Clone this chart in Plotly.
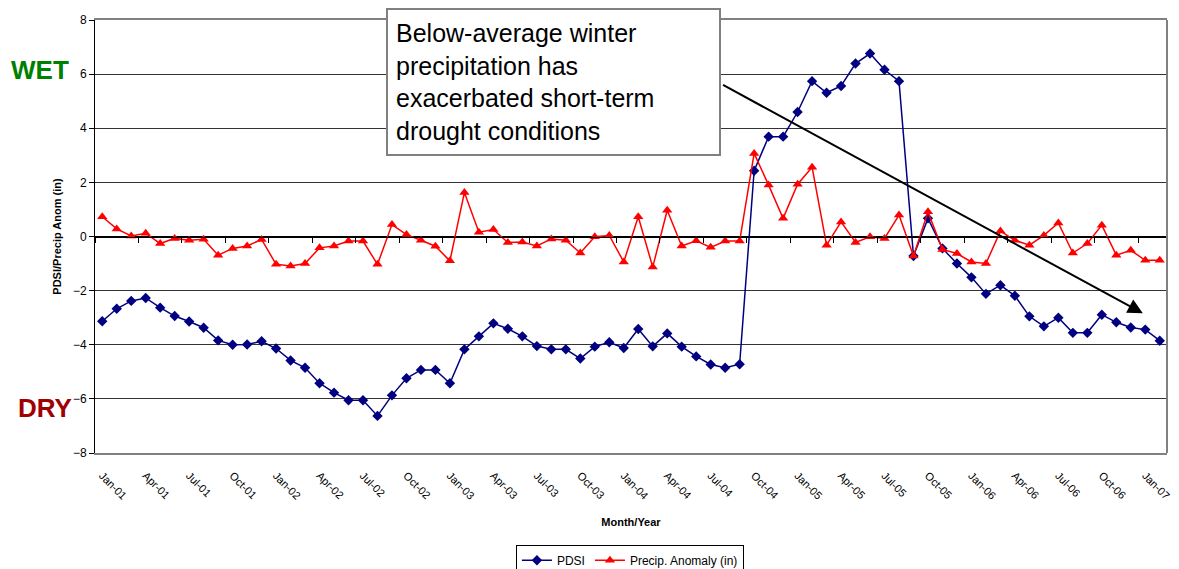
import plotly.graph_objects as go
import pandas as pd

# ---- data ----
months = [d.strftime("%b-%y") for d in pd.date_range("2001-01-01", "2007-02-01", freq="MS")]

pdsi = [-3.13, -2.67, -2.38, -2.27, -2.63, -2.94, -3.14, -3.37, -3.84, -4.00, -3.99, -3.87,
        -4.14, -4.58, -4.85, -5.42, -5.77, -6.05, -6.05, -6.63, -5.87, -5.24, -4.93, -4.93,
        -5.42, -4.17, -3.69, -3.21, -3.41, -3.69, -4.05, -4.17, -4.17, -4.51, -4.07, -3.91,
        -4.12, -3.42, -4.06, -3.58, -4.07, -4.43, -4.73, -4.85, -4.72, 2.43, 3.69, 3.69,
        4.60, 5.74, 5.31, 5.56, 6.39, 6.76, 6.16, 5.74, -0.72, 0.67, -0.44, -1.00,
        -1.51, -2.12, -1.80, -2.19, -2.95, -3.32, -3.00, -3.56, -3.56, -2.89, -3.17, -3.36,
        -3.44, -3.85]

precip = [0.73, 0.28, 0.02, 0.12, -0.26, -0.07, -0.14, -0.10, -0.69, -0.44, -0.35, -0.11,
          -1.03, -1.09, -1.00, -0.42, -0.35, -0.17, -0.17, -1.03, 0.44, 0.07, -0.14, -0.36,
          -0.90, 1.63, 0.16, 0.26, -0.22, -0.20, -0.35, -0.09, -0.14, -0.61, -0.01, 0.04,
          -0.94, 0.73, -1.13, 0.97, -0.35, -0.16, -0.40, -0.17, -0.17, 3.07, 1.90, 0.67,
          1.93, 2.56, -0.32, 0.54, -0.22, -0.01, -0.07, 0.79, -0.72, 0.91, -0.48, -0.63,
          -0.94, -1.00, 0.20, -0.14, -0.32, 0.04, 0.50, -0.61, -0.26, 0.42, -0.69, -0.51,
          -0.88, -0.88]

y_ticks = [-8, -6, -4, -2, 0, 2, 4, 6, 8]
note_text = ("Below-average winter<br>precipitation has<br>"
             "exacerbated short-term<br>drought conditions")
# arrow (tail -> head) in data units
arrow_tail = (42.75, 5.63)
arrow_head = (71.83, -2.84)

FONT = "Arial, Liberation Sans, sans-serif"
idx = list(range(len(months)))
n = len(months)

fig = go.Figure()
fig.add_trace(go.Scatter(
    x=idx, y=pdsi, name="PDSI", mode="lines+markers",
    line=dict(color="#000080", width=1.5),
    marker=dict(symbol="diamond", size=8, color="#000080"),
))
fig.add_trace(go.Scatter(
    x=idx, y=precip, name="Precip. Anomaly (in)", mode="lines+markers",
    line=dict(color="#FF0000", width=1.5),
    marker=dict(symbol="triangle-up", size=9, color="#FF0000"),
))
# empty trace so the zero-crossing tick axis is drawn
fig.add_trace(go.Scatter(x=[], y=[], xaxis="x2", showlegend=False, hoverinfo="skip"))

boundaries = [i - 0.5 for i in range(0, n + 1, 3)]

# page has an 8px body margin: figure is 8px smaller, margins shifted accordingly
fig.update_layout(
    width=1171, height=561,
    margin=dict(l=87, r=12, t=12, b=116, autoexpand=False),
    paper_bgcolor="white", plot_bgcolor="white",
    font=dict(family=FONT, color="black"),
    xaxis=dict(
        range=[-0.5, n - 0.5], automargin=False,
        tickvals=idx[::3], ticktext=months[::3],
        tickangle=45, tickfont=dict(size=11, family=FONT),
        ticks="", showgrid=False, zeroline=False,
        showline=True, linecolor="#808080", linewidth=2, mirror=True,
        ticklabelstandoff=10,
        title=dict(text="<b>Month/Year</b>", font=dict(size=11, family=FONT), standoff=18),
    ),
    xaxis2=dict(
        overlaying="x", matches="x", anchor="free", position=0.5,
        range=[-0.5, n - 0.5], automargin=False,
        tickvals=boundaries, ticks="outside", ticklen=5, tickcolor="black",
        showticklabels=False, showgrid=False, zeroline=False,
        showline=True, linecolor="black", linewidth=1,
    ),
    yaxis=dict(
        range=[-8, 8], tickvals=y_ticks, automargin=False,
        tickfont=dict(size=12, family=FONT),
        ticks="outside", ticklen=5, tickcolor="black",
        showline=True, linecolor="black", linewidth=1,
        showgrid=True, gridcolor="#333333", gridwidth=1,
        zeroline=True, zerolinecolor="black", zerolinewidth=1,
        title=dict(text="<b>PDSI/Precip Anom (in)</b>", font=dict(size=11, family=FONT), standoff=9),
    ),
    legend=dict(
        orientation="h", x=0.499, xanchor="center", y=-0.212, yanchor="top",
        bordercolor="black", borderwidth=1, font=dict(size=12, family=FONT),
        itemwidth=30, tracegroupgap=0,
    ),
    shapes=[dict(type="line", xref="paper", yref="paper", x0=1, x1=1, y0=0, y1=1,
                 line=dict(color="#808080", width=2))],
)

fig.add_annotation(
    x=arrow_head[0], y=arrow_head[1], ax=arrow_tail[0], ay=arrow_tail[1],
    xref="x", yref="y", axref="x", ayref="y", text="",
    showarrow=True, arrowhead=2, arrowsize=1.5, arrowwidth=2, arrowcolor="black",
    standoff=0,
)
fig.add_annotation(
    x=0.4277, y=0.857, xref="paper", yref="paper", xanchor="center", yanchor="middle",
    text=note_text, showarrow=False, align="left",
    font=dict(size=25, family=FONT, color="black"),
    bgcolor="white", bordercolor="#808080", borderwidth=2, borderpad=8,
    width=315, height=128,
)
fig.add_annotation(
    x=40, y=70, xref="paper", yref="paper", xanchor="center", yanchor="middle",
    text="<b>WET</b>", showarrow=False,
    font=dict(size=26, family=FONT, color="#008000"),
)
fig.add_annotation(
    x=45, y=408, xref="paper", yref="paper", xanchor="center", yanchor="middle",
    text="<b>DRY</b>", showarrow=False,
    font=dict(size=26, family=FONT, color="#A00000"),
)

# convert pixel-placed labels (page pixels) to paper coords of the plot area
pl, pr, pt, pb = 95, 1167, 20, 453
for a in fig.layout.annotations[-2:]:
    px, py = a.x, a.y
    a.x = (px - pl) / (pr - pl)
    a.y = (pb - py) / (pb - pt)

fig.write_html("out.html")
